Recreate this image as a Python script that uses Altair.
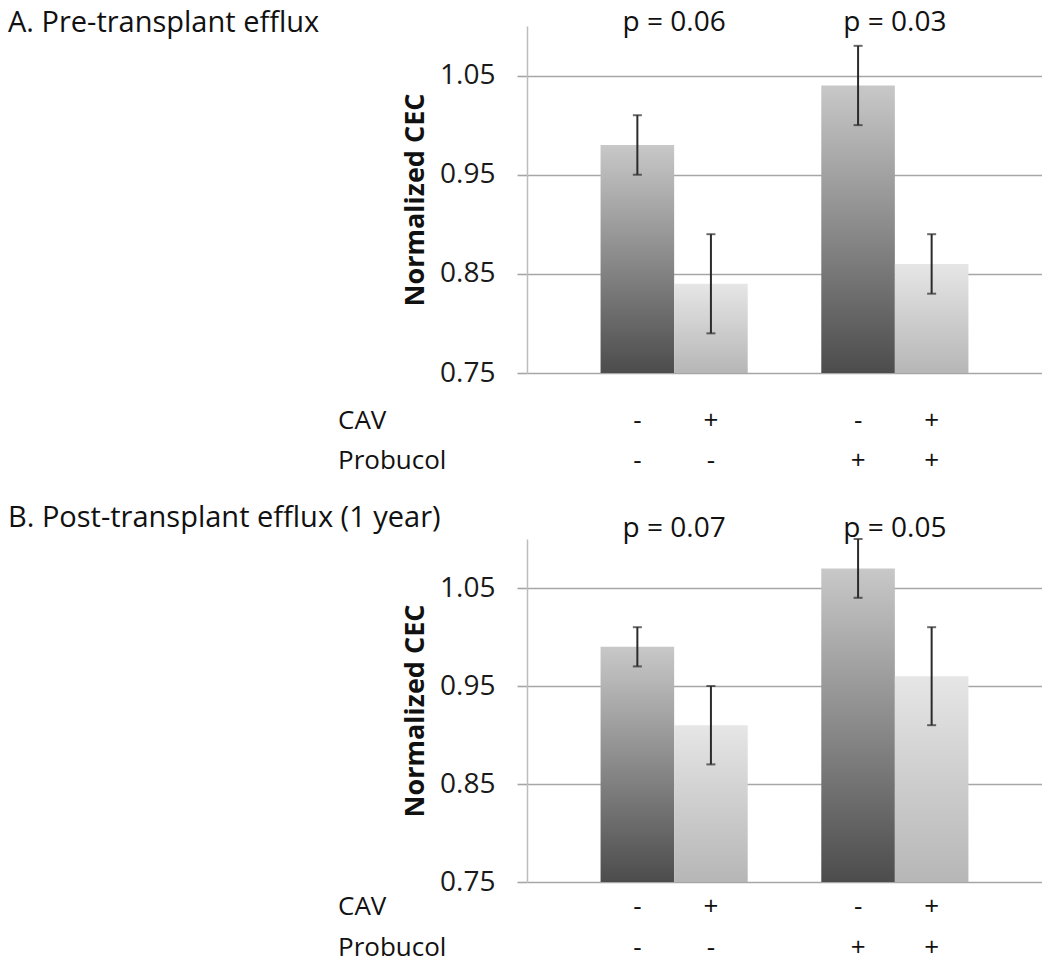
import altair as alt
import pandas as pd

# ---- data ----
slots = ["b1", "b2", "gap", "b3", "b4"]
bar_slots = ["b1", "b2", "b3", "b4"]
shade = ["dark", "light", "dark", "light"]
cav = ["-", "+", "-", "+"]
probucol = ["-", "-", "+", "+"]

a_values = [0.98, 0.84, 1.04, 0.86]
a_low = [0.95, 0.79, 1.00, 0.83]
a_high = [1.01, 0.89, 1.08, 0.89]

b_values = [0.99, 0.91, 1.07, 0.96]
b_low = [0.97, 0.87, 1.04, 0.91]
b_high = [1.01, 0.95, 1.10, 1.01]

p_slots = ["b2", "b4"]
a_p = ["p = 0.06", "p = 0.03"]
b_p = ["p = 0.07", "p = 0.05"]

y_ticks = [0.75, 0.85, 0.95, 1.05]
y_domain = [0.75, 1.10]
row_names = ["CAV", "Probucol"]

FONT = "Open Sans"
W = 515

dark_grad = alt.Gradient(
    gradient="linear",
    stops=[alt.GradientStop(color="#4c4c4c", offset=0),
           alt.GradientStop(color="#c8c8c8", offset=1)],
    x1=0, x2=0, y1=1, y2=0)
light_grad = alt.Gradient(
    gradient="linear",
    stops=[alt.GradientStop(color="#b6b6b6", offset=0),
           alt.GradientStop(color="#e6e6e6", offset=1)],
    x1=0, x2=0, y1=1, y2=0)


def label(text, x, y, size):
    d = pd.DataFrame({"t": [text]})
    return alt.Chart(d).mark_text(font=FONT, fontSize=size, color="#111",
                                  align="left", baseline="alphabetic").encode(
        x=alt.value(x), y=alt.value(y), text="t:N")


def panel(values, low, high, ptexts, title, h, title_y, p_y, cav_y, prob_y):
    df = pd.DataFrame({"slot": bar_slots, "value": values, "low": low,
                       "high": high, "shade": shade, "cav": cav,
                       "prob": probucol})
    xs = alt.Scale(domain=slots, paddingInner=0, paddingOuter=1)
    x = alt.X("slot:N", scale=xs, axis=None)
    ys = alt.Scale(domain=y_domain, nice=False, zero=False)
    yaxis = alt.Axis(values=y_ticks, format=".2f", title="Normalized CEC",
                     grid=True, gridColor="#a6a6a6", gridWidth=1.6,
                     domainColor="#bdbdbd", domainWidth=1.5,
                     tickColor="#a6a6a6", tickSize=10, tickWidth=1.6,
                     labelFont=FONT, labelFontSize=28, labelColor="#1a1a1a",
                     labelPadding=22, titleFont=FONT, titleFontSize=27,
                     titleFontWeight="bold", titleColor="#111",
                     titlePadding=10)
    base = alt.Chart(df)
    dark = base.transform_filter(alt.datum.shade == "dark").mark_bar(
        color=dark_grad).encode(
        x=x, y=alt.Y("value:Q", scale=ys, axis=yaxis), y2=alt.datum(0.75))
    light = base.transform_filter(alt.datum.shade == "light").mark_bar(
        color=light_grad).encode(
        x=x, y=alt.Y("value:Q", scale=ys), y2=alt.datum(0.75))
    err = base.mark_rule(color="#2b2b2b", strokeWidth=2).encode(
        x=x, y=alt.Y("low:Q", scale=ys), y2="high:Q")
    cap_lo = base.mark_tick(color="#2b2b2b", thickness=2, size=9).encode(
        x=x, y=alt.Y("low:Q", scale=ys))
    cap_hi = base.mark_tick(color="#2b2b2b", thickness=2, size=9).encode(
        x=x, y=alt.Y("high:Q", scale=ys))
    pdf = pd.DataFrame({"slot": p_slots, "p": ptexts})
    ptxt = alt.Chart(pdf).mark_text(font=FONT, fontSize=28, color="#111",
                                    baseline="alphabetic").encode(
        x=alt.X("slot:N", scale=xs, axis=None, bandPosition=0),
        y=alt.value(p_y), text="p:N")
    cav_t = base.mark_text(font=FONT, fontSize=26, color="#111",
                           baseline="alphabetic").encode(
        x=x, y=alt.value(h + cav_y), text="cav:N")
    prob_t = base.mark_text(font=FONT, fontSize=26, color="#111",
                            baseline="alphabetic").encode(
        x=x, y=alt.value(h + prob_y), text="prob:N")
    r1 = label(row_names[0], -189, h + cav_y, 26)
    r2 = label(row_names[1], -189, h + prob_y, 26)
    ttl = label(title, -519, title_y, 29)
    return alt.layer(dark, light, err, cap_lo, cap_hi, ptxt, cav_t, prob_t,
                     r1, r2, ttl).properties(width=W, height=h)


pa = panel(a_values, a_low, a_high, a_p, "A. Pre-transplant efflux",
           347, 5.5, 5, 56, 96)
pb = panel(b_values, b_low, b_high, b_p, "B. Post-transplant efflux (1 year)",
           343, -12, -2, 33, 74)

chart = alt.vconcat(pa, pb, spacing=30).properties(
    padding={"top": 0, "left": 0, "right": 0, "bottom": 4},
    background="white").configure_view(stroke=None)

chart.save("out.html", embed_options={"renderer": "svg", "actions": False})
